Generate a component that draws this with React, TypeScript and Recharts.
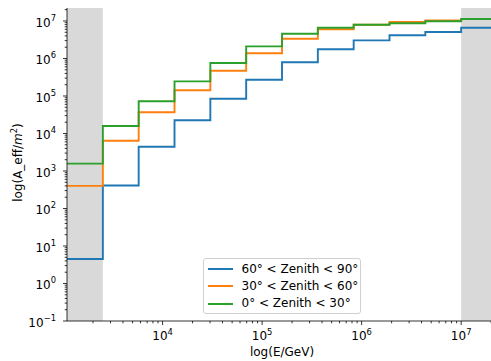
import React from 'react';
import { ComposedChart, Line, XAxis, YAxis, ReferenceArea, Legend } from 'recharts';

// Bin edges in E/GeV (12 bins + closing edge)
const energyEdges = [1096, 2512, 5754, 13183, 30200, 69183, 158489, 363078, 831764, 1905461, 4365158, 10000000, 22908677];

// Effective area per bin (m^2)
const zenith60to90 = [4.5, 410, 4450, 22500, 84700, 272000, 792000, 1760000, 3050000, 4160000, 5090000, 6630000];
const zenith30to60 = [400, 6430, 36700, 142000, 473000, 1380000, 3370000, 6000000, 7960000, 9400000, 10400000, 11300000];
const zenith0to30 = [1570, 15800, 72300, 246000, 759000, 2110000, 4580000, 6630000, 7960000, 8690000, 9800000, 11300000];

const seriesNames = ['60° < Zenith < 90°', '30° < Zenith < 60°', '0° < Zenith < 30°'];
const seriesColors = ['#1f77b4', '#ff7f0e', '#2ca02c'];

const xMajorTicks = [10000, 100000, 1000000, 10000000];
const xMinorTicks = [
  2000, 3000, 4000, 5000, 6000, 7000, 8000, 9000,
  20000, 30000, 40000, 50000, 60000, 70000, 80000, 90000,
  200000, 300000, 400000, 500000, 600000, 700000, 800000, 900000,
  2000000, 3000000, 4000000, 5000000, 6000000, 7000000, 8000000, 9000000,
  20000000,
];
const yMajorTicks = [0.1, 1, 10, 100, 1000, 10000, 100000, 1000000, 10000000];
const yMinorTicks = [
  0.2, 0.3, 0.4, 0.5, 0.6, 0.7, 0.8, 0.9,
  2, 3, 4, 5, 6, 7, 8, 9,
  20, 30, 40, 50, 60, 70, 80, 90,
  200, 300, 400, 500, 600, 700, 800, 900,
  2000, 3000, 4000, 5000, 6000, 7000, 8000, 9000,
  20000, 30000, 40000, 50000, 60000, 70000, 80000, 90000,
  200000, 300000, 400000, 500000, 600000, 700000, 800000, 900000,
  2000000, 3000000, 4000000, 5000000, 6000000, 7000000, 8000000, 9000000,
  20000000,
];

const xDomain = [1096, 22908677];
const yDomain = [0.1, 22200000];

const data = energyEdges.map((E, i) => {
  const k = Math.min(i, zenith60to90.length - 1);
  return { E, high: zenith60to90[k], mid: zenith30to60[k], low: zenith0to30[k] };
});

const FONT = 'DejaVu Sans';

const isMajor = (v: number) => Math.abs(Math.log10(v) - Math.round(Math.log10(v))) < 1e-6;
const expLabel = (v: number) => {
  const e = Math.round(Math.log10(v));
  return e < 0 ? '\u2212' + Math.abs(e) : String(e);
};

const XTick = (props: any) => {
  const { x, y, payload } = props;
  const v = payload.value;
  const major = isMajor(v);
  return (
    <g>
      <line x1={x} x2={x} y1={y} y2={y + (major ? 4 : 2.3)} stroke="#000" strokeWidth={0.8} />
      {major && (
        <text x={x} y={y + 19} textAnchor="middle" fontSize={12} fontFamily={FONT} fill="#000">
          <tspan>10</tspan>
          <tspan dy={-5.5} fontSize={8.4}>{expLabel(v)}</tspan>
        </text>
      )}
    </g>
  );
};

const YTick = (props: any) => {
  const { x, y, payload } = props;
  const v = payload.value;
  const major = isMajor(v);
  return (
    <g>
      <line x1={x} x2={x - (major ? 4 : 2.3)} y1={y} y2={y} stroke="#000" strokeWidth={0.8} />
      {major && (
        <text x={x - 11} y={y + 6} textAnchor="end" fontSize={12} fontFamily={FONT} fill="#000">
          <tspan>10</tspan>
          <tspan dy={-6} fontSize={8.4}>{expLabel(v)}</tspan>
        </text>
      )}
    </g>
  );
};

const YLabel = (props: any) => {
  const vb = props.viewBox || { x: 0, y: 8, width: 67, height: 313 };
  const cx = 21.5;
  const cy = vb.y + vb.height / 2 - 2;
  return (
    <text
      x={cx}
      y={cy}
      transform={`rotate(-90, ${cx}, ${cy})`}
      textAnchor="middle"
      fontSize={12}
      fontFamily={FONT}
      fill="#000"
    >
      <tspan>log(A_eff/</tspan>
      <tspan fontStyle="italic">m</tspan>
      <tspan dy={-5} fontSize={8.4}>2</tspan>
      <tspan dy={5}>)</tspan>
    </text>
  );
};

const XLabel = (props: any) => {
  const vb = props.viewBox || { x: 67, y: 321, width: 430, height: 40 };
  return (
    <text x={vb.x + vb.width / 2} y={356} textAnchor="middle" fontSize={12} fontFamily={FONT} fill="#000">
      log(E/GeV)
    </text>
  );
};

const LegendBox = () => {
  return (
    <div
      style={{
        width: 158,
        height: 56,
        boxSizing: 'border-box',
        border: '1px solid #d0d0d0',
        borderRadius: 3,
        background: 'rgba(255,255,255,0.8)',
        fontFamily: FONT,
        fontSize: 12,
        color: '#000',
        padding: '1.5px 0 0 0',
      }}
    >
      {seriesNames.map((name, i) => (
        <div key={i} style={{ display: 'flex', alignItems: 'center', height: 17.3, lineHeight: '17.3px' }}>
          <div style={{ width: 25.5, height: 2, background: seriesColors[i], marginLeft: 3.5, marginRight: 8.5 }} />
          <span style={{ whiteSpace: 'nowrap' }}>{name}</span>
        </div>
      ))}
    </div>
  );
};

export default function App() {
  return (
    <div style={{ position: 'absolute', left: 0, top: 0, width: 491, height: 361, overflow: 'hidden', background: '#fff' }}>
      <ComposedChart
        width={520}
        height={361}
        data={data}
        margin={{ top: 8, right: 23, bottom: 0, left: 0 }}
      >
        <XAxis
          dataKey="E"
          type="number"
          scale="log"
          domain={xDomain}
          allowDataOverflow
          ticks={[...xMinorTicks, ...xMajorTicks]}
          interval={0}
          tickSize={0}
          tickMargin={0}
          tickLine={false}
          axisLine={{ stroke: '#000', strokeWidth: 0.8 }}
          tick={<XTick />}
          height={40}
          label={<XLabel />}
        />
        <XAxis
          xAxisId="top"
          orientation="top"
          type="number"
          scale="log"
          domain={xDomain}
          allowDataOverflow
          height={0}
          tick={false}
          tickLine={false}
          axisLine={{ stroke: '#000', strokeWidth: 0.8 }}
        />
        <YAxis
          type="number"
          scale="log"
          domain={yDomain}
          allowDataOverflow
          ticks={[...yMinorTicks, ...yMajorTicks]}
          interval={0}
          tickSize={0}
          tickMargin={0}
          tickLine={false}
          axisLine={{ stroke: '#000', strokeWidth: 0.8 }}
          tick={<YTick />}
          width={67}
          label={<YLabel />}
        />
        <ReferenceArea x1={energyEdges[0]} x2={energyEdges[1]} fill="#d9d9d9" fillOpacity={1} stroke="none" ifOverflow="hidden" />
        <ReferenceArea x1={energyEdges[11]} x2={energyEdges[12]} fill="#d9d9d9" fillOpacity={1} stroke="none" ifOverflow="hidden" />
        <Line type="stepAfter" dataKey="high" name={seriesNames[0]} stroke={seriesColors[0]} strokeWidth={1.9} dot={false} isAnimationActive={false} />
        <Line type="stepAfter" dataKey="mid" name={seriesNames[1]} stroke={seriesColors[1]} strokeWidth={1.9} dot={false} isAnimationActive={false} />
        <Line type="stepAfter" dataKey="low" name={seriesNames[2]} stroke={seriesColors[2]} strokeWidth={1.9} dot={false} isAnimationActive={false} />
        <Legend
          layout="vertical"
          align="center"
          verticalAlign="middle"
          content={<LegendBox />}
          wrapperStyle={{ position: 'absolute', left: 203, top: 258, width: 158, height: 56 }}
        />
      </ComposedChart>
    </div>
  );
}
